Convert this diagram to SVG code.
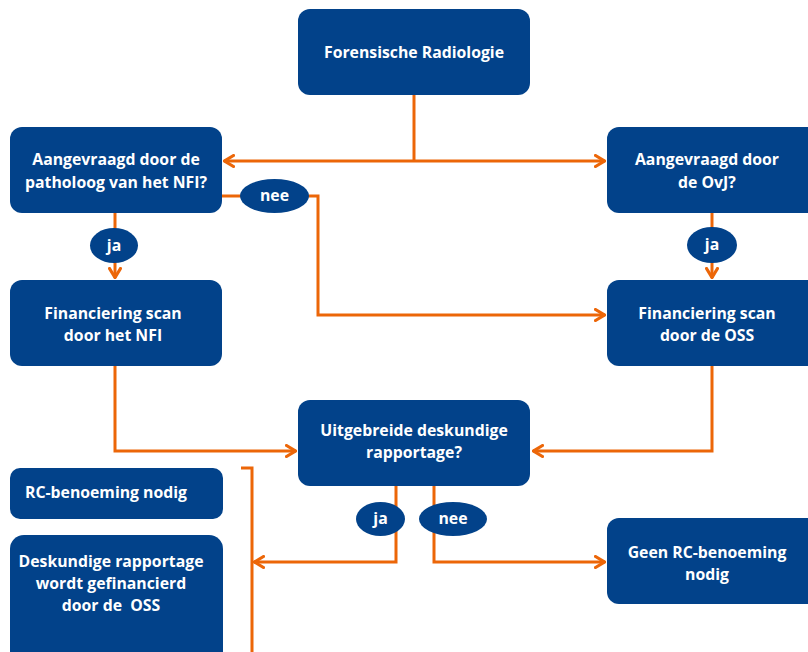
<svg xmlns="http://www.w3.org/2000/svg" width="808" height="652" viewBox="0 0 808 652">
<style>
.box{fill:#02428a}
.t{fill:#fff;font-family:"Open Sans","Noto Sans",sans-serif;font-weight:bold;font-size:15.8px;text-anchor:middle}
.c{fill:none;stroke:#ec6608;stroke-width:3}
</style>
<defs>
<marker id="a" viewBox="0 0 12 14" refX="11" refY="7" markerWidth="12" markerHeight="14" markerUnits="userSpaceOnUse" orient="auto">
<path d="M1.5,1.5 L10.5,7 L1.5,12.5" fill="none" stroke="#ec6608" stroke-width="3.2" stroke-linecap="round" stroke-linejoin="miter"/>
</marker>
</defs>
<g id="connectors">
<path class="c" d="M414,95 V161"/>
<path class="c" d="M414,161 H224" marker-end="url(#a)"/>
<path class="c" d="M414,161 H605" marker-end="url(#a)"/>
<path class="c" d="M115,213 V278" marker-end="url(#a)"/>
<path class="c" d="M712,213 V278" marker-end="url(#a)"/>
<path class="c" d="M222,196 H318 V315 H605" marker-end="url(#a)"/>
<path class="c" d="M115,366 V451 H296" marker-end="url(#a)"/>
<path class="c" d="M712,366 V451 H533" marker-end="url(#a)"/>
<path class="c" d="M396,486 V562 H254" marker-end="url(#a)"/>
<path class="c" d="M434,486 V562 H605" marker-end="url(#a)"/>
<path class="c" d="M241,468 H252 V652"/>
</g>
<g id="n-forensisch"><rect class="box" x="298" y="9" width="232" height="86" rx="12"/><text class="t" x="414" y="58">Forensische Radiologie</text></g>
<g id="n-nfi-vraag"><rect class="box" x="10" y="127" width="212" height="86" rx="12"/><text class="t" x="116" y="165">Aangevraagd door de</text><text class="t" x="116" y="188">patholoog van het NFI?</text></g>
<g id="n-ovj-vraag"><rect class="box" x="607" y="127" width="212" height="86" rx="12"/><text class="t" x="707" y="165">Aangevraagd door</text><text class="t" x="707" y="188">de OvJ?</text></g>
<g id="n-fin-nfi"><rect class="box" x="10" y="280" width="212" height="86" rx="12"/><text class="t" x="113" y="319">Financiering scan</text><text class="t" x="113" y="341">door het NFI</text></g>
<g id="n-fin-oss"><rect class="box" x="607" y="280" width="212" height="86" rx="12"/><text class="t" x="707" y="319">Financiering scan</text><text class="t" x="707" y="341">door de OSS</text></g>
<g id="n-uitgebreid"><rect class="box" x="298" y="400" width="232" height="86" rx="12"/><text class="t" x="414" y="436">Uitgebreide deskundige</text><text class="t" x="414" y="458">rapportage?</text></g>
<g id="n-rc"><rect class="box" x="10" y="468" width="213" height="51" rx="10"/><text class="t" x="106" y="498">RC-benoeming nodig</text></g>
<g id="n-desk"><rect class="box" x="10" y="535" width="213" height="140" rx="14"/><text class="t" x="111" y="567">Deskundige rapportage</text><text class="t" x="111" y="589">wordt gefinancierd</text><text class="t" x="111" y="611" xml:space="preserve">door de  OSS</text></g>
<g id="n-geen-rc"><rect class="box" x="607" y="518" width="212" height="86" rx="12"/><text class="t" x="707" y="558">Geen RC-benoeming</text><text class="t" x="707" y="580">nodig</text></g>
<g id="l-nee1"><ellipse class="box" cx="274.5" cy="196" rx="34.5" ry="17"/><text class="t" x="274.5" y="201">nee</text></g>
<g id="l-ja1"><ellipse class="box" cx="114" cy="245.5" rx="24" ry="17.5"/><text class="t" x="114" y="251">ja</text></g>
<g id="l-ja2"><ellipse class="box" cx="712" cy="245" rx="25" ry="18"/><text class="t" x="712" y="250">ja</text></g>
<g id="l-ja3"><ellipse class="box" cx="380.5" cy="519" rx="24.5" ry="17"/><text class="t" x="380.5" y="524">ja</text></g>
<g id="l-nee2"><ellipse class="box" cx="453" cy="519" rx="34" ry="17"/><text class="t" x="453" y="524">nee</text></g>
</svg>
